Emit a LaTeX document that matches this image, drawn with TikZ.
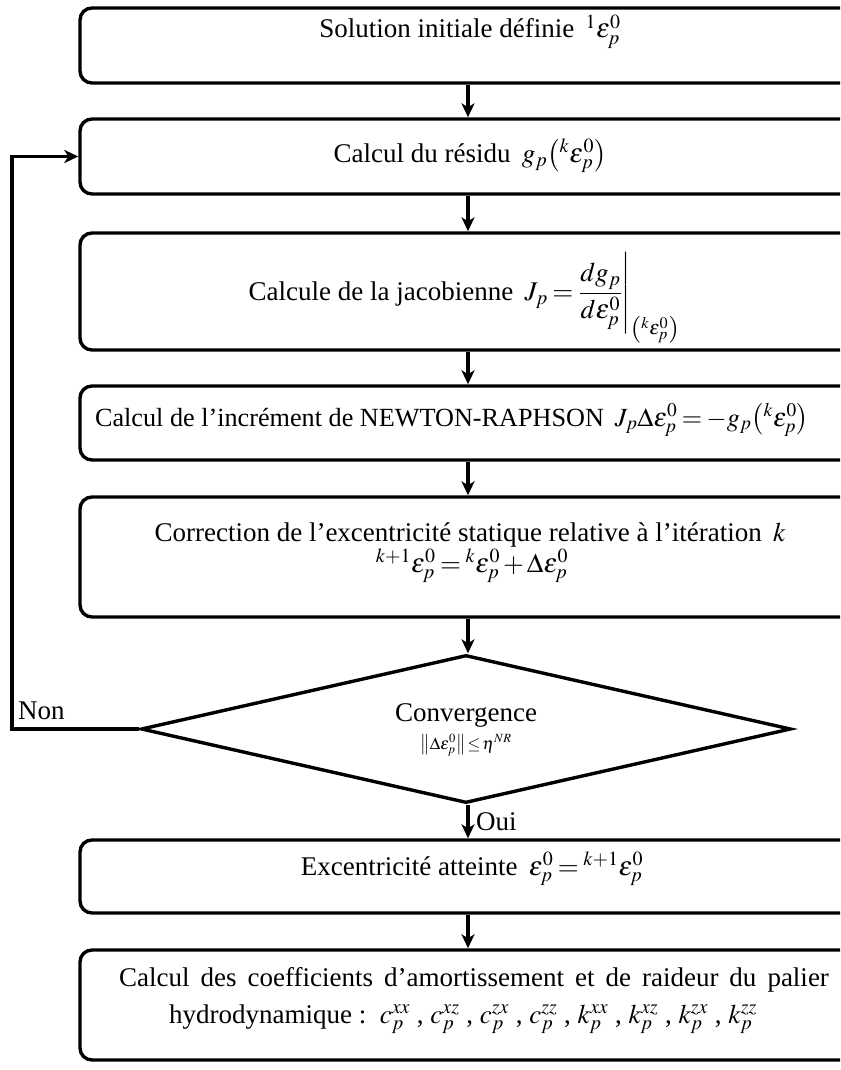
\documentclass[tikz,border=0pt]{standalone}
\usepackage{amsmath}
\usepackage{mathptmx}
\usepackage[no-math]{fontspec}
\setmainfont{Liberation Serif}
\usetikzlibrary{shapes.geometric,arrows.meta}
% tighter spacing round relations and binary operators
\thickmuskip=3mu plus 2mu
\medmuskip=2mu plus 1mu

\begin{document}
\begin{tikzpicture}[x=1pt,y=-1pt,
  box/.style={draw=black, line width=3.4pt, rounded corners=12pt,
    minimum width=776pt, inner sep=0pt},
  txt/.style={inner sep=0pt, anchor=base, font=\fontsize{27}{32}\selectfont},
  small/.style={inner sep=0pt, anchor=base, font=\fontsize{17}{20}\selectfont},
  arr/.style={line width=3.4pt, -{Stealth[length=14pt,width=13pt,inset=4pt]}},
  decision/.style={draw=black, line width=3.4pt, diamond, inner sep=0pt,
    minimum width=650pt, minimum height=148pt}]

\useasboundingbox (0,0) rectangle (840,1070);
\clip (0,0) rectangle (840,1070);
\fill[white] (0,0) rectangle (840,1070);

% process boxes (right edges run off the page)
\node[box, minimum height=75pt]  (b1) at (468,45.5)  {};
\node[box, minimum height=75pt]  (b2) at (468,156.5) {};
\node[box, minimum height=117pt] (b3) at (468,291.5) {};
\node[box, minimum height=74pt]  (b4) at (468,423)   {};
\node[box, minimum height=120pt] (b5) at (468,557)   {};
\node[decision] (d) at (466,729) {};
\node[box, minimum height=73pt]  (b6) at (468,876.5) {};
\node[box, minimum height=110pt] (b7) at (468,1005)  {};

% texts
\node[txt] (t1) at (470,38) {Solution initiale définie\, ${}^{1}\varepsilon_p^0$};
\node[txt] (t2) at (470,162) {Calcul du résidu\, $g_p\bigl({}^{k}\varepsilon_p^0\bigr)$};
\node[txt] (t3) at (464,300) {Calcule de la jacobienne\, $J_p=\left.\dfrac{dg_p}{d\varepsilon_p^0}\right|_{\left({}^{k}\varepsilon_p^0\right)}$};
\node[txt, font=\fontsize{26.2}{31}\selectfont] (t4) at (452,426) {Calcul de l’incrément de NEWTON-RAPHSON\, $J_p\Delta\varepsilon_p^0=-g_p\bigl({}^{k}\varepsilon_p^0\bigr)$};
\node[txt] (t5a) at (470,541) {Correction de l’excentricité statique relative à l’itération\, $k$};
\node[txt] (t5b) at (472,572) {${}^{k+1}\varepsilon_p^0={}^{k}\varepsilon_p^0+\Delta\varepsilon_p^0$};
\node[txt] (td) at (466,721) {Convergence};
\node[small] (tdf) at (466,749) {$\left\|\Delta\varepsilon_p^0\right\|{\le}\,\eta^{NR}$};
\node[txt] (t6) at (472,875) {Excentricité atteinte\, $\varepsilon_p^0={}^{k+1}\varepsilon_p^0$};
\node[txt] (t7a) at (474,986) {\spaceskip=11pt plus 2pt Calcul des coefficients d’amortissement et de raideur du palier};
\node[txt] (t7b) at (463,1023) {hydrodynamique :\, $c_p^{xx}$ , $c_p^{xz}$ , $c_p^{zx}$ , $c_p^{zz}$ , $k_p^{xx}$ , $k_p^{xz}$ , $k_p^{zx}$ , $k_p^{zz}$};

% branch labels
\node[txt, anchor=base west] (non) at (18,719) {Non};
\node[txt, anchor=base west] (oui) at (476,830) {Oui};

% connectors
\draw[arr] (b1.south) -- (b2.north);
\draw[arr] (b2.south) -- (b3.north);
\draw[arr] (b3.south) -- (b4.north);
\draw[arr] (b4.south) -- (b5.north);
\draw[arr] (b5.south) -- (d.north -| b5.south);
\draw[arr] (d.south -| b6.north) -- (b6.north);
\draw[arr] (b6.south) -- (b7.north);
\coordinate (loop) at (12,729);
\draw[arr] (d.west) -- (loop) |- (b2.west);

\end{tikzpicture}
\end{document}
